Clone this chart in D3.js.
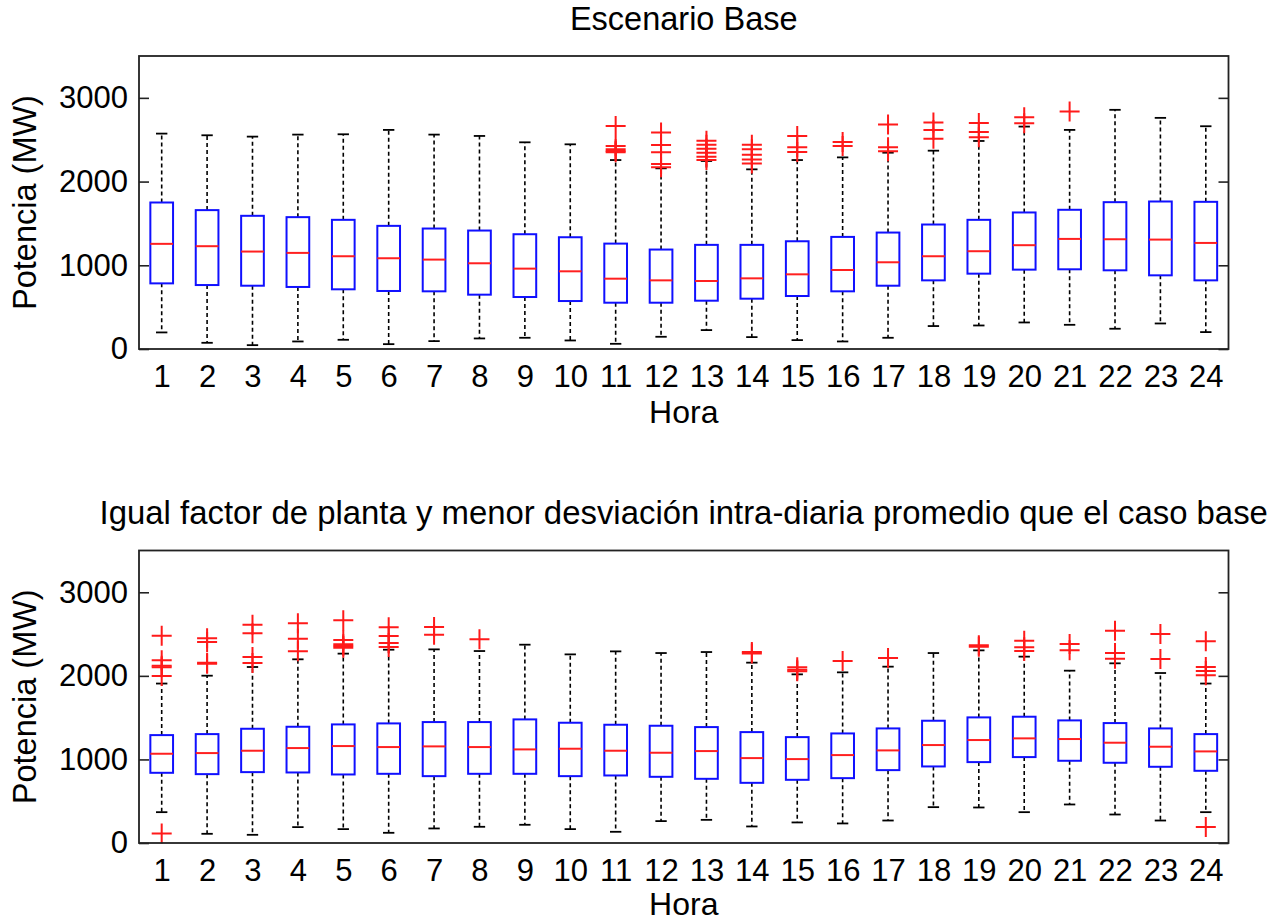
<!DOCTYPE html>
<html>
<head>
<meta charset="utf-8">
<script src="https://cdn.jsdelivr.net/npm/d3@7"></script>
<style>
  html, body { margin: 0; padding: 0; background: #fff; }
  svg { display: block; font-family: "Liberation Sans", Arial, Helvetica, sans-serif; }
</style>
</head>
<body>
<svg id="chart" width="1282" height="921"></svg>
<script>
// Hours of the day (categories)
const hours = [1,2,3,4,5,6,7,8,9,10,11,12,13,14,15,16,17,18,19,20,21,22,23,24];
const yTicks = [0, 1000, 2000, 3000];

// Escenario Base: box-plot statistics per hour (MW)
const baseLow  = [198, 74, 46, 90, 110, 58, 94, 126, 134, 102, 62, 146, 226, 142, 106, 90, 134, 274, 281, 317, 289, 242, 305, 202];
const baseQ1   = [784, 764, 756, 741, 713, 693, 689, 649, 621, 573, 553, 553, 577, 601, 633, 689, 756, 820, 900, 948, 952, 940, 880, 820];
const baseMed  = [1256, 1228, 1164, 1148, 1108, 1084, 1068, 1024, 960, 928, 840, 820, 812, 844, 892, 944, 1036, 1108, 1168, 1240, 1315, 1311, 1307, 1267];
const baseQ3   = [1750, 1659, 1591, 1575, 1543, 1471, 1439, 1415, 1371, 1335, 1259, 1188, 1244, 1244, 1287, 1339, 1391, 1487, 1543, 1631, 1663, 1754, 1762, 1758];
const baseHigh = [2573, 2553, 2537, 2561, 2565, 2617, 2561, 2545, 2469, 2445, 2257, 2158, 2246, 2146, 2257, 2289, 2345, 2369, 2485, 2657, 2617, 2857, 2761, 2661];
const baseOutliers = [
  [], [], [], [], [], [], [], [], [], [],
  [2665, 2425, 2385, 2365, 2350],
  [2585, 2437, 2349, 2210, 2170],
  [2489, 2441, 2393, 2345, 2297, 2257],
  [2441, 2385, 2321, 2265, 2217],
  [2545, 2409, 2353],
  [2473, 2425],
  [2681, 2409, 2361],
  [2705, 2617, 2513],
  [2701, 2593, 2529],
  [2769, 2697],
  [2836],
  [], [], []
];

// Same plant factor, lower mean intra-day deviation: box-plot statistics per hour (MW)
const altLow  = [369, 110, 98, 190, 166, 122, 174, 194, 218, 166, 134, 262, 277, 198, 246, 234, 269, 429, 425, 369, 461, 341, 269, 369];
const altQ1   = [840, 824, 848, 844, 820, 828, 800, 828, 828, 800, 808, 792, 768, 720, 756, 776, 872, 916, 968, 1028, 984, 960, 912, 864];
const altMed  = [1068, 1076, 1104, 1136, 1160, 1148, 1156, 1148, 1120, 1128, 1104, 1080, 1100, 1016, 1004, 1052, 1108, 1172, 1232, 1252, 1244, 1200, 1152, 1096];
const altQ3   = [1291, 1303, 1367, 1391, 1419, 1431, 1447, 1447, 1479, 1439, 1415, 1403, 1387, 1327, 1267, 1311, 1371, 1463, 1503, 1511, 1467, 1435, 1371, 1303];
const altHigh = [1908, 2002, 2106, 2198, 2266, 2313, 2317, 2297, 2373, 2257, 2293, 2273, 2285, 2158, 2018, 2042, 2110, 2273, 2305, 2230, 2062, 2150, 2034, 1908];
const altOutliers = [
  [2481, 2186, 2122, 2102, 1998, 114],
  [2449, 2405, 2158, 2146],
  [2613, 2509, 2226, 2154],
  [2629, 2445, 2293],
  [2665, 2429, 2377, 2357, 2337],
  [2581, 2477, 2393, 2345],
  [2585, 2493],
  [2437],
  [], [], [], [], [],
  [2285, 2269],
  [2102, 2074, 2054],
  [2178],
  [2214],
  [],
  [2365, 2349],
  [2421, 2341, 2297],
  [2381, 2305],
  [2541, 2273, 2206],
  [2501, 2202],
  [2413, 2106, 2058, 2006, 190]
];

const svg = d3.select("#chart");
const left = 139, right = 1228.5;
const axisColor = "#222";

const x = d3.scaleLinear().domain([0.5, 24.5]).range([left, right]);
const boxW = (x(1) - x(0.5)) * 1.0;   // box width = half the category step
const capW = boxW / 2;

function drawPanel(cfg) {
  const y = d3.scaleLinear().domain([0, 3500]).range([cfg.bottom, cfg.top]);
  const g = svg.append("g");

  const rows = hours.map((h, i) => ({
    h, low: cfg.low[i], q1: cfg.q1[i], med: cfg.med[i], q3: cfg.q3[i], high: cfg.high[i], out: cfg.out[i]
  }));

  // title
  g.append("text")
    .attr("x", (left + right) / 2).attr("y", cfg.top - 26.5)
    .attr("text-anchor", "middle").attr("font-size", cfg.titleSize).attr("fill", "#000")
    .text(cfg.title);

  // y axis (inward ticks, labels to the left)
  const yAxis = g.append("g").attr("transform", `translate(${left},0)`)
    .call(d3.axisLeft(y).tickValues(yTicks).tickSizeInner(-10).tickSizeOuter(0).tickPadding(11).tickFormat(d3.format("d")));
  yAxis.select(".domain").remove();
  yAxis.selectAll(".tick line").attr("stroke", axisColor).attr("stroke-width", 1.6);
  yAxis.selectAll(".tick text").attr("font-size", 31).attr("fill", "#000").attr("font-family", null);

  const yAxisR = g.append("g").attr("transform", `translate(${right},0)`)
    .call(d3.axisRight(y).tickValues(yTicks).tickSizeInner(-10).tickSizeOuter(0).tickFormat(""));
  yAxisR.select(".domain").remove();
  yAxisR.selectAll(".tick line").attr("stroke", axisColor).attr("stroke-width", 1.6);

  // x axis labels
  const xAxis = g.append("g").attr("transform", `translate(0,${cfg.bottom})`)
    .call(d3.axisBottom(x).tickValues(hours).tickSize(0).tickPadding(16).tickFormat(d3.format("d")));
  xAxis.select(".domain").remove();
  xAxis.selectAll(".tick text").attr("font-size", 31).attr("fill", "#000").attr("font-family", null);

  // axis labels
  g.append("text")
    .attr("x", (left + right) / 2).attr("y", cfg.bottom + cfg.xLabelGap)
    .attr("text-anchor", "middle").attr("font-size", 32).attr("fill", "#000")
    .text("Hora");
  g.append("text")
    .attr("transform", `translate(36,${(cfg.top + cfg.bottom) / 2}) rotate(-90)`)
    .attr("text-anchor", "middle").attr("font-size", 32.5).attr("fill", "#000")
    .text("Potencia (MW)");

  const boxes = g.append("g").selectAll("g").data(rows).join("g");

  // dashed whiskers
  boxes.append("line")
    .attr("x1", d => x(d.h)).attr("x2", d => x(d.h))
    .attr("y1", d => y(d.q3)).attr("y2", d => y(d.high))
    .attr("stroke", "#000").attr("stroke-width", 1.6).attr("stroke-dasharray", "4,3");
  boxes.append("line")
    .attr("x1", d => x(d.h)).attr("x2", d => x(d.h))
    .attr("y1", d => y(d.q1)).attr("y2", d => y(d.low))
    .attr("stroke", "#000").attr("stroke-width", 1.6).attr("stroke-dasharray", "4,3");

  // whisker caps
  boxes.append("line")
    .attr("x1", d => x(d.h) - capW / 2).attr("x2", d => x(d.h) + capW / 2)
    .attr("y1", d => y(d.high)).attr("y2", d => y(d.high))
    .attr("stroke", "#000").attr("stroke-width", 1.8);
  boxes.append("line")
    .attr("x1", d => x(d.h) - capW / 2).attr("x2", d => x(d.h) + capW / 2)
    .attr("y1", d => y(d.low)).attr("y2", d => y(d.low))
    .attr("stroke", "#000").attr("stroke-width", 1.8);

  // interquartile boxes
  boxes.append("rect")
    .attr("x", d => x(d.h) - boxW / 2).attr("width", boxW)
    .attr("y", d => y(d.q3)).attr("height", d => y(d.q1) - y(d.q3))
    .attr("fill", "none").attr("stroke", "#1010ff").attr("stroke-width", 2);

  // medians
  boxes.append("line")
    .attr("x1", d => x(d.h) - boxW / 2).attr("x2", d => x(d.h) + boxW / 2)
    .attr("y1", d => y(d.med)).attr("y2", d => y(d.med))
    .attr("stroke", "#ff2020").attr("stroke-width", 2);

  // outliers as '+' markers
  const pts = rows.flatMap(d => d.out.map(v => ({ h: d.h, v })));
  const m = 10;
  g.append("g").selectAll("path").data(pts).join("path")
    .attr("d", d => {
      const cx = x(d.h), cy = y(d.v);
      return `M${cx - m},${cy}H${cx + m}M${cx},${cy - m}V${cy + m}`;
    })
    .attr("fill", "none").attr("stroke", "#ff1a1a").attr("stroke-width", 2);

  // frame
  g.append("rect")
    .attr("x", left).attr("y", cfg.top)
    .attr("width", right - left).attr("height", cfg.bottom - cfg.top)
    .attr("fill", "none").attr("stroke", axisColor).attr("stroke-width", 1.8);
}

drawPanel({
  title: "Escenario Base", titleSize: 32.5,
  top: 56, bottom: 349, xLabelGap: 74,
  low: baseLow, q1: baseQ1, med: baseMed, q3: baseQ3, high: baseHigh, out: baseOutliers
});

drawPanel({
  title: "Igual factor de planta y menor desviación intra-diaria promedio que el caso base", titleSize: 32.9,
  top: 550.5, bottom: 843, xLabelGap: 71.5,
  low: altLow, q1: altQ1, med: altMed, q3: altQ3, high: altHigh, out: altOutliers
});
</script>
</body>
</html>
